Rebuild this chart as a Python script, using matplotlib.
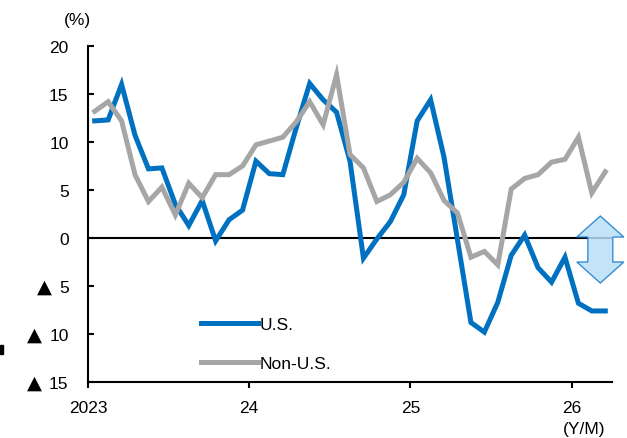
import matplotlib
matplotlib.use("Agg")
import matplotlib.pyplot as plt
from matplotlib.patches import Polygon, Rectangle

plt.rcParams['font.family'] = ['Liberation Sans', 'DejaVu Sans']

# Monthly YoY growth (%), 2023/01 - 2026/03
months = [f"{y}/{m:02d}" for y in (2023, 2024, 2025, 2026) for m in range(1, 13)][:39]
us = [12.2, 12.3, 16.0, 10.7, 7.2, 7.3, 3.5, 1.3, 3.9, -0.3, 1.9, 2.9,
      8.0, 6.7, 6.6, 11.5, 16.1, 14.4, 13.1, 8.0, -2.1, -0.1, 1.7, 4.5,
      12.2, 14.4, 8.4, -0.2, -8.8, -9.8, -6.7, -1.8, 0.3, -3.1, -4.6, -2.0,
      -6.8, -7.6, -7.6]
non_us = [13.2, 14.2, 12.2, 6.6, 3.8, 5.3, 2.4, 5.7, 4.2, 6.6, 6.6, 7.5,
          9.7, 10.1, 10.5, 12.1, 14.2, 11.8, 17.0, 8.7, 7.3, 3.8, 4.5, 5.8,
          8.3, 6.8, 3.9, 2.6, -2.0, -1.4, -2.8, 5.1, 6.2, 6.6, 7.9, 8.2,
          10.5, 4.7, 6.9]
ytick_vals = [20, 15, 10, 5, 0, -5, -10, -15]
ytick_labels = ['20', '15', '10', '5', '0', '5', '10', '15']
xtick_pos = [0, 12, 24, 36]
xtick_labels = ['2023', '24', '25', '26']

BLUE = '#0070c0'
GRAY = '#a6a6a6'
FS = 12.5

fig = plt.figure(figsize=(6.27, 4.39), dpi=100)
ax = fig.add_axes([88 / 627, 56 / 439, 524 / 627, 336 / 439])

x = [i + 0.5 for i in range(len(months))]
ax.plot(x, us, color=BLUE, lw=3.6, label='U.S.', solid_joinstyle='miter')
ax.plot(x, non_us, color=GRAY, lw=3.6, label='Non-U.S.', solid_joinstyle='miter')
ax.axhline(0, color='black', lw=1.5, zorder=1)

ax.set_xlim(0, 39)
ax.set_ylim(-15, 20)
ax.set_yticks(ytick_vals)
ax.set_yticklabels(ytick_labels)
ax.set_xticks(xtick_pos)
ax.set_xticklabels(xtick_labels)

for s in ('top', 'right'):
    ax.spines[s].set_visible(False)
for s in ('left', 'bottom'):
    ax.spines[s].set_linewidth(1.5)
ax.tick_params(axis='y', direction='in', length=4, width=1.5, pad=14, labelsize=FS)
ax.tick_params(axis='x', direction='out', length=4, width=1.5, pad=9, labelsize=FS)

# negative values are marked with a black triangle in front of the number
for v in ytick_vals:
    if v < 0:
        xr = 52 if v == -5 else 42
        ax.annotate('▲', xy=(0, v), xycoords=('axes fraction', 'data'),
                    xytext=(xr - 88, 0), textcoords='offset pixels',
                    ha='right', va='center', fontsize=14, family='DejaVu Sans',
                    annotation_clip=False)

ax.legend(loc='upper left', bbox_to_anchor=(0.215, 0.193), frameon=False,
          fontsize=FS, handlelength=3.3, handletextpad=0.1,
          labelspacing=1.35, borderpad=0, borderaxespad=0)

# two-way arrow at the right edge, straddling zero
cx = 38.13
arrow = Polygon([(cx, 2.29), (cx + 1.75, 0.1), (cx + 0.93, 0.1), (cx + 0.93, -2.5),
                 (cx + 1.75, -2.5), (cx, -4.69), (cx - 1.75, -2.5), (cx - 0.93, -2.5),
                 (cx - 0.93, 0.1), (cx - 1.75, 0.1)], closed=True,
                facecolor='#b9def8', edgecolor='#1a7ccc', lw=1.0, alpha=0.85,
                clip_on=False, zorder=5)
ax.add_patch(arrow)

fig.text(77 / 627, 1 - 20 / 439, '(%)', ha='center', va='center', fontsize=FS)
fig.text(584 / 627, 1 - 430 / 439, '(Y/M)', ha='center', va='center', fontsize=FS)
fig.patches.append(Rectangle((0, (439 - 355) / 439), 3 / 627, 9 / 439,
                             transform=fig.transFigure, color='black'))

fig.savefig('out.png', dpi=100)
